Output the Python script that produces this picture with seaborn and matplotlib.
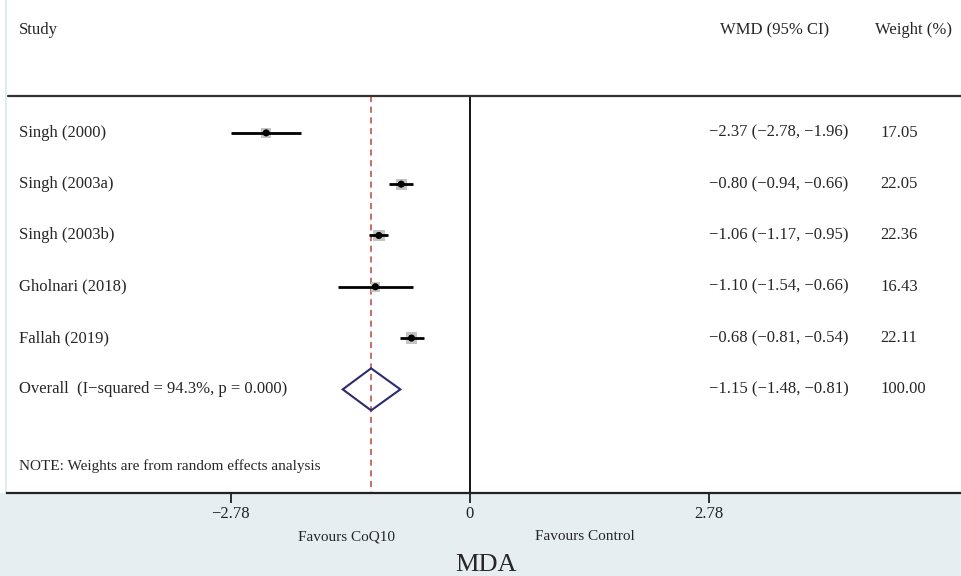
import matplotlib
matplotlib.use("Agg")
import matplotlib.pyplot as plt
import seaborn as sns
import pandas as pd
from matplotlib.patches import Polygon, Rectangle
from matplotlib.lines import Line2D
import matplotlib.transforms as mtransforms

# ---- data ----
studies = ["Singh (2000)", "Singh (2003a)", "Singh (2003b)", "Gholnari (2018)", "Fallah (2019)"]
wmd = [-2.37, -0.80, -1.06, -1.10, -0.68]
ci_low = [-2.78, -0.94, -1.17, -1.54, -0.81]
ci_high = [-1.96, -0.66, -0.95, -0.66, -0.54]
weights = [17.05, 22.05, 22.36, 16.43, 22.11]
overall_label = "Overall  (I\u2212squared = 94.3%, p = 0.000)"
overall_est, overall_low, overall_high = -1.15, -1.48, -0.81
overall_weight = 100.00
tick_values = [-2.78, 0, 2.78]
tick_labels = ["\u22122.78", "0", "2.78"]

sns.set_theme(style="white")
plt.rcParams["font.family"] = ["Liberation Serif", "DejaVu Serif"]

W, H = 961, 576
fig = plt.figure(figsize=(W / 100, H / 100), dpi=100, facecolor="white")
# bottom band
fig.patches.append(Rectangle((0, 0), 1, (H - 493) / H, transform=fig.transFigure,
                             facecolor="#e6eef1", edgecolor="none", zorder=-5))
fig.lines.append(Line2D([6 / W, 6 / W], [(H - 493) / H, 1], transform=fig.transFigure,
                        color="#dbe6ec", lw=1.2, zorder=-5))

ax = fig.add_axes([7 / W, (H - 493) / H, (W - 7) / W, 493 / H])
ax.set_facecolor("white")
ax.set_zorder(2)

rows = list(range(len(studies)))
df = pd.DataFrame({"row": rows, "wmd": wmd, "lo": ci_low, "hi": ci_high, "w": weights})

ax.set_xlim((7 - 470) / 86, (961 - 470) / 86)
ax.set_ylim(7.02, -2.59)

line_top = -0.72
# reference lines
ax.plot([0, 0], [line_top, 7.02], color="black", lw=1.3, zorder=1)
ax.plot([overall_est, overall_est], [line_top, 7.02], color="#b5473d", lw=1.1,
        ls=(0, (4, 3)), zorder=1)
ax.axhline(line_top, xmin=1 / 954, color="#333333", lw=1.6, zorder=1)

# CI lines
ax.hlines(df["row"], df["lo"], df["hi"], color="black", lw=2.0, zorder=3)
# weight squares and point estimates
sns.scatterplot(data=df, x="wmd", y="row", marker="s", s=df["w"] * 3.0, color="#c4c4c4",
                edgecolor="none", ax=ax, zorder=2, legend=False)
sns.scatterplot(data=df, x="wmd", y="row", marker="o", s=26, color="black",
                edgecolor="none", ax=ax, zorder=4, legend=False)

# overall diamond
orow = len(studies)
dh = 0.41
ax.add_patch(Polygon([[overall_low, orow], [overall_est, orow - dh],
                      [overall_high, orow], [overall_est, orow + dh]],
                     closed=True, fill=False, edgecolor="#2c2b6b", lw=1.5, zorder=4))

# text columns
tr = mtransforms.blended_transform_factory(ax.transAxes, ax.transData)
fs = 12
x_study = (19 - 7) / 954
x_wmd = (709 - 7) / 954
x_wmd_head = (720 - 7) / 954
x_w = (880 - 7) / 954
x_w_head = (875 - 7) / 954

ax.text(x_study, -2, "Study", transform=tr, ha="left", va="center", fontsize=fs)
ax.text(x_wmd_head, -2, "WMD (95% CI)", transform=tr, ha="left", va="center", fontsize=fs)
ax.text(x_w_head, -2, "Weight (%)", transform=tr, ha="left", va="center", fontsize=fs)


def fmt(v):
    return f"{v:.2f}".replace("-", "\u2212")


for r, name, e, l, h, w in zip(rows, studies, wmd, ci_low, ci_high, weights):
    ax.text(x_study, r, name, transform=tr, ha="left", va="center", fontsize=fs)
    ax.text(x_wmd, r, f"{fmt(e)} ({fmt(l)}, {fmt(h)})", transform=tr, ha="left",
            va="center", fontsize=fs)
    ax.text(x_w, r, f"{w:.2f}", transform=tr, ha="left", va="center", fontsize=fs)

ax.text(x_study, orow, overall_label, transform=tr, ha="left", va="center", fontsize=fs)
ax.text(x_wmd, orow, f"{fmt(overall_est)} ({fmt(overall_low)}, {fmt(overall_high)})",
        transform=tr, ha="left", va="center", fontsize=fs)
ax.text(x_w, orow, f"{overall_weight:.2f}", transform=tr, ha="left", va="center", fontsize=fs)
ax.text(x_study, 6.5, "NOTE: Weights are from random effects analysis", transform=tr,
        ha="left", va="center", fontsize=11)

# axes styling
for s in ["top", "right", "left"]:
    ax.spines[s].set_visible(False)
ax.spines["bottom"].set_color("#222222")
ax.spines["bottom"].set_linewidth(1.6)
ax.set_yticks([])
ax.set_xticks(tick_values)
ax.set_xticklabels(tick_labels, fontsize=12)
ax.tick_params(axis="x", direction="out", length=7, width=1.3, color="#222222", pad=2,
               bottom=True, labelbottom=True, labelcolor="#222222")
ax.set_xlabel("")
ax.set_ylabel("")

fig.text(346 / W, 1 - 537 / H, "Favours CoQ10", ha="center", va="center", fontsize=11)
fig.text(585 / W, 1 - 537 / H, "Favours Control", ha="center", va="center", fontsize=11)
fig.text(486 / W, 1 - 565 / H, "MDA", ha="center", va="center", fontsize=19)

fig.savefig("out.png", dpi=100, facecolor=fig.get_facecolor())
